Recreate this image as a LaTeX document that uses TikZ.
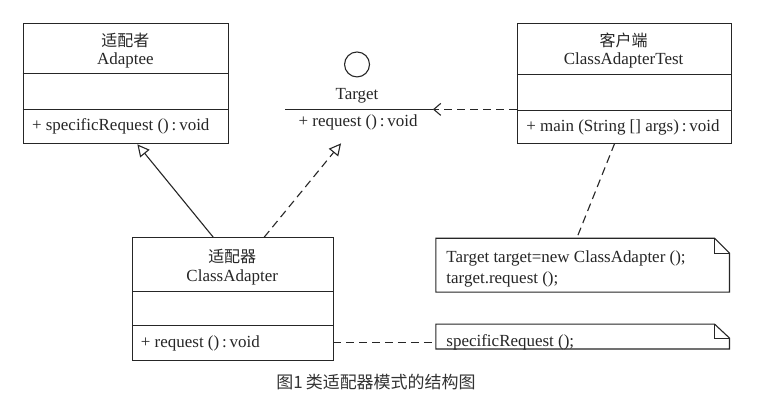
\documentclass[tikz,border=0pt]{standalone}
\usepackage{fontspec}
\setmainfont{Liberation Serif}
\newfontfamily\cjk{Noto Sans CJK SC}
\newfontfamily\capfont{Noto Sans CJK SC}
\usetikzlibrary{arrows.meta}
\definecolor{ink}{HTML}{262626}
\definecolor{captxt}{HTML}{333333}
\begin{document}
\begin{tikzpicture}[x=1pt,y=-1pt,
  every path/.style={draw=ink, line width=1.1pt},
  classbox/.style={draw=ink, line width=1.1pt, rectangle, anchor=north west, inner sep=0pt},
  txt/.style={font=\fontsize{17}{20}\selectfont, text=ink, inner sep=0pt},
  ctxt/.style={font=\cjk\fontsize{16}{19}\selectfont, text=ink, inner sep=0pt},
  dashline/.style={dash pattern=on 8pt off 5pt},
  genarrow/.style={-{Triangle[open,length=12pt,width=12pt,line width=1.1pt]}},
  deparrow/.style={-{Straight Barb[length=7pt,width=12pt,line width=1.1pt]}}
]
\useasboundingbox (0,0) rectangle (765,413);
\fill[white] (0,0) rectangle (765,413);

% Adaptee
\node[classbox, minimum width=206pt, minimum height=121pt] (adaptee) at (22,22) {};
\draw (22,73) -- (228,73);
\draw (22,109) -- (228,109);
\node[ctxt] (adapteeCn) at (125,40) {适配者};
\node[txt] (adapteeName) at (125,60) {Adaptee};
\node[txt, anchor=west] (adapteeOp) at (31,126) {+ specificRequest ()\,:\,void};

% Client
\node[classbox, minimum width=214pt, minimum height=121pt] (client) at (517,22) {};
\draw (517,74) -- (731,74);
\draw (517,110) -- (731,110);
\node[ctxt] (clientCn) at (624,40) {客户端};
\node[txt] (clientName) at (624,60) {ClassAdapterTest};
\node[txt, anchor=west] (clientOp) at (526,127) {+ main (String [] args)\,:\,void};

% Target interface
\node[draw=ink, line width=1.1pt, circle, minimum size=25pt, inner sep=0pt] (lollipop) at (357,64) {};
\node[txt] (targetName) at (357,95) {Target};
\coordinate (tLineL) at (285,109);
\coordinate (tLineR) at (433,109);
\draw (tLineL) -- (tLineR);
\node[txt, anchor=west] (targetOp) at (298,122) {+ request ()\,:\,void};

% ClassAdapter
\node[classbox, minimum width=201pt, minimum height=123pt] (adapter) at (132,237) {};
\draw (132,291) -- (333,291);
\draw (132,325) -- (333,325);
\node[ctxt] (adapterCn) at (232,256) {适配器};
\node[txt] (adapterName) at (232,277) {ClassAdapter};
\node[txt, anchor=west] (adapterOp) at (140,343) {+ request ()\,:\,void};

% Notes
\draw (436,238) -- (715,238) -- (730,253) -- (730,292) -- (436,292) -- cycle;
\draw (715,238) -- (715,253) -- (730,253);
\node[txt, anchor=west] (note1a) at (446,258) {Target target=new ClassAdapter ();};
\node[txt, anchor=west] (note1b) at (446,279) {target.request ();};
\coordinate (note1top) at (577,238);

\draw (436,324) -- (715,324) -- (730,338) -- (730,349) -- (436,349) -- cycle;
\draw (715,324) -- (715,338) -- (730,338);
\node[txt, anchor=west] (note2a) at (446,342) {specificRequest ();};
\coordinate (note2left) at (436,342);

% Connectors
\coordinate (genStart) at (213,237);
\coordinate (genEnd) at (137,144);
\draw[genarrow] (genStart) -- (genEnd);
\coordinate (realStart) at (264,237);
\coordinate (realEnd) at (341,143);
\draw[genarrow, dashline] (realStart) -- (realEnd);
\coordinate (depStart) at (517,109);
\draw[deparrow, dashline] (depStart) -- (tLineR);
\coordinate (clientBottom) at (615,143);
\draw[dashline] (clientBottom) -- (note1top);
\coordinate (adapterRight) at (333,342);
\draw[dashline] (adapterRight) -- (note2left);

% Caption
\node[font=\capfont\fontsize{17}{20}\selectfont, text=captxt, inner sep=0pt] (caption) at (376,382) {图1\hspace{3pt}类适配器模式的结构图};
\end{tikzpicture}
\end{document}
